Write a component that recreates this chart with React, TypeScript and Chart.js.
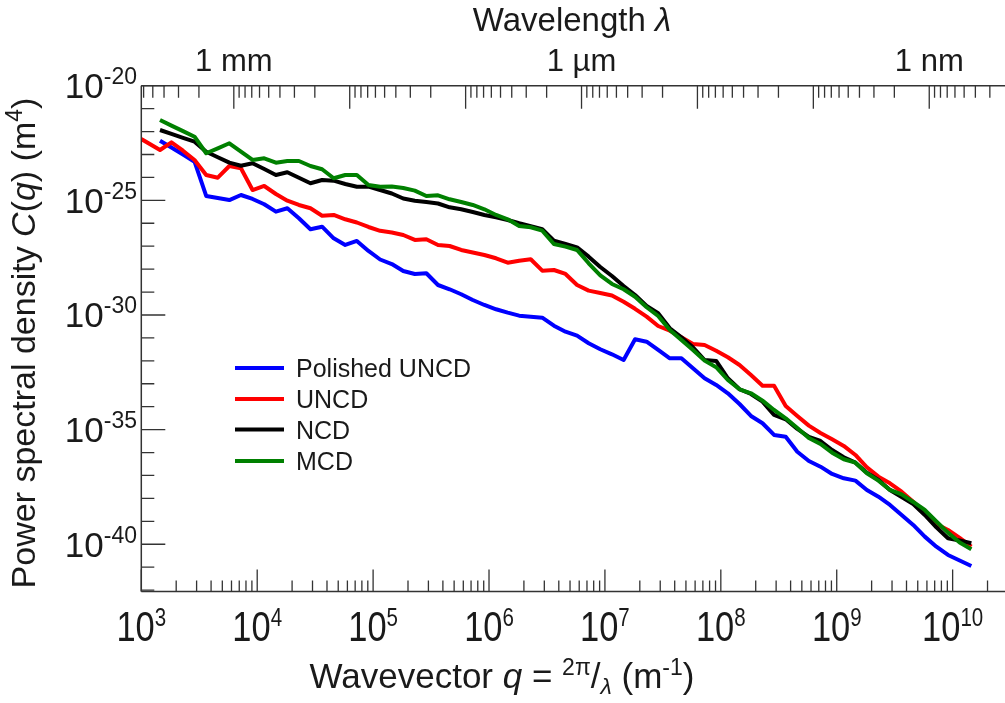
import React, { useEffect, useRef } from "react";
import { Chart, registerables } from "chart.js";

Chart.register(...registerables);

// Wavevector q (m^-1), shared by all series
const qValues = [
  1.45e3, 1.82e3, 2.29e3, 2.88e3, 3.63e3, 4.57e3, 5.75e3, 7.24e3, 9.12e3,
  1.15e4, 1.45e4, 1.82e4, 2.29e4, 2.88e4, 3.63e4, 4.57e4, 5.75e4, 7.24e4, 9.12e4,
  1.15e5, 1.45e5, 1.82e5, 2.29e5, 2.88e5, 3.63e5, 4.57e5, 5.75e5, 7.24e5, 9.12e5,
  1.15e6, 1.45e6, 1.82e6, 2.29e6, 2.88e6, 3.63e6, 4.57e6, 5.75e6, 7.24e6, 9.12e6,
  1.15e7, 1.45e7, 1.82e7, 2.29e7, 2.88e7, 3.63e7, 4.57e7, 5.75e7, 7.24e7, 9.12e7,
  1.15e8, 1.45e8, 1.82e8, 2.29e8, 2.88e8, 3.63e8, 4.57e8, 5.75e8, 7.24e8, 9.12e8,
  1.15e9, 1.45e9, 1.82e9, 2.29e9, 2.88e9, 3.63e9, 4.57e9, 5.75e9, 7.24e9, 9.12e9,
  1.15e10, 1.45e10,
];

// PSD C(q) (m^4)
const polishedUNCD = [
  3.99e-23, 2.02e-23, 1.0e-23, 4.85e-24, 1.55e-25, 1.26e-25, 1.03e-25, 1.71e-25, 1.15e-25,
  6.73e-26, 3.2e-26, 4.5e-26, 1.65e-26, 5.46e-27, 7.1e-27, 2.21e-27, 1.13e-27, 1.69e-27, 6.18e-28,
  2.63e-28, 1.67e-28, 8.3e-29, 6.14e-29, 6.59e-29, 2.03e-29, 1.32e-29, 8.0e-30, 4.51e-30, 2.73e-30,
  1.77e-30, 1.26e-30, 9.31e-31, 8.43e-31, 7.62e-31, 3.41e-31, 1.87e-31, 1.25e-31, 5.83e-32, 3.19e-32,
  1.93e-32, 1.09e-32, 8.71e-32, 6.85e-32, 2.98e-32, 1.29e-32, 1.29e-32, 4.73e-33, 1.73e-33, 8.85e-34,
  3.85e-34, 1.31e-34, 3.94e-35, 1.89e-35, 5.85e-36, 4.93e-36, 1.09e-36, 4.3e-37, 2.42e-37, 1.16e-37,
  7.55e-38, 5.94e-38, 2.33e-38, 1.19e-38, 5.18e-39, 1.9e-39, 6.95e-40, 2.15e-40, 7.85e-41, 3.41e-41,
  1.96e-41, 1.13e-41,
];

const uncdEdgeQ = 1.0e3;
const uncdEdgeC = 4.74e-23;
const uncd = [
  1.57e-23, 3.4e-23, 1.46e-23, 5.75e-24, 1.28e-24, 9.73e-25, 3.15e-24, 2.5e-24, 2.82e-25,
  4.23e-25, 1.89e-25, 9.66e-26, 6.27e-26, 4.5e-26, 2.14e-26, 2.3e-26, 1.49e-26, 1.08e-26, 6.89e-27,
  4.7e-27, 3.96e-27, 3.08e-27, 1.87e-27, 2.0e-27, 1.13e-27, 1.02e-27, 6.84e-28, 5.32e-28, 4.14e-28,
  2.97e-28, 1.91e-28, 2.33e-28, 2.69e-28, 8.55e-29, 9.16e-29, 6.14e-29, 2.03e-29, 1.15e-29, 9.12e-30,
  7.08e-30, 3.8e-30, 1.86e-30, 8.43e-31, 3.31e-31, 2.07e-31, 1.06e-31, 5.43e-32, 4.91e-32, 2.77e-32,
  1.43e-32, 6.59e-33, 2.42e-33, 8.26e-34, 8.26e-34, 1.07e-34, 3.94e-35, 1.49e-35, 7.14e-36, 3.79e-36,
  1.94e-36, 7.83e-37, 2.28e-37, 8.87e-38, 4.57e-38, 1.97e-38, 7.21e-39, 2.39e-39, 7.67e-40, 4.2e-40,
  1.88e-40, 7.85e-41,
];

const ncd = [
  1.17e-22, 7.91e-23, 5.35e-23, 3.61e-23, 1.32e-23, 7.62e-24, 4.39e-24, 3.24e-24, 4.13e-24,
  2.33e-24, 1.28e-24, 1.67e-24, 9.62e-25, 5.55e-25, 7.71e-25, 7.19e-25, 5.16e-25, 3.94e-25, 3.94e-25,
  2.82e-25, 1.99e-25, 1.2e-25, 9.66e-26, 8.47e-26, 7.29e-26, 4.98e-26, 4.07e-26, 3.1e-26, 2.3e-26,
  1.82e-26, 1.39e-26, 9.98e-27, 7.38e-27, 5.46e-27, 1.74e-27, 1.25e-27, 8.95e-28, 3.49e-28, 1.24e-28,
  5.02e-29, 1.84e-29, 7.45e-30, 2.47e-30, 1.19e-30, 2.63e-31, 1.06e-31, 3.9e-32, 1.09e-32, 9.86e-33,
  1.73e-33, 5.75e-34, 3.59e-34, 1.66e-34, 4.36e-35, 2.82e-35, 1.07e-35, 4.78e-36, 3.2e-36, 1.29e-36,
  6.22e-37, 3.62e-37, 1.33e-37, 6.37e-38, 2.33e-38, 1.16e-38, 5.71e-39, 1.9e-39, 5.51e-40, 1.83e-40,
  1.47e-40, 1.11e-40,
];

const mcd = [
  3.19e-22, 1.82e-22, 1.05e-22, 5.97e-23, 1.13e-23, 1.86e-23, 3.08e-23, 1.32e-23, 5.75e-24,
  6.82e-24, 4.39e-24, 5.2e-24, 5.2e-24, 3.15e-24, 2.26e-24, 9.16e-25, 1.28e-24, 1.28e-24, 4.67e-25,
  3.94e-25, 4.02e-25, 3.46e-25, 2.64e-25, 1.55e-25, 1.66e-25, 1.11e-25, 8.47e-26, 6.27e-26, 4.07e-26,
  2.3e-26, 1.49e-26, 7.6e-27, 6.68e-27, 4.74e-27, 1.25e-27, 9.53e-28, 6.84e-28, 1.8e-28, 5.38e-29,
  2.25e-29, 1.32e-29, 6.22e-30, 2.17e-30, 9.04e-31, 2.22e-31, 8.13e-32, 2.98e-32, 1.02e-32, 5.24e-33,
  1.46e-33, 5.75e-34, 3.85e-34, 1.83e-34, 7.19e-35, 3.13e-35, 1.18e-35, 4.33e-36, 2.37e-36, 9.89e-37,
  5.09e-37, 3.62e-37, 1.25e-37, 5.94e-38, 2.33e-38, 1.49e-38, 7.0e-39, 3.13e-39, 9.86e-40, 3.21e-40,
  1.2e-40, 6.05e-41,
];

const seriesLabels = ["Polished UNCD", "UNCD", "NCD", "MCD"];
const seriesColors = ["#0000ff", "#ff0000", "#000000", "#008000"];

// Axis ranges and tick labels
const xMin = 1e3;
const xMax = 2.83e10;
const yMin = 8.7e-43;
const yMax = 1e-20;
const xTickExponents = [3, 4, 5, 6, 7, 8, 9, 10];
const yTickExponents = [-20, -25, -30, -35, -40];
const topTickLabels = ["1 mm", "1 µm", "1 nm"];
const topTickWavelengths = [1e-3, 1e-6, 1e-9];

const FONT = '"Liberation Sans", Arial, Helvetica, sans-serif';
const TEXT = "#1a1a1a";
const AXIS = "#333333";

type Seg = { t: string; f: string; dy?: number };

function drawSegs(ctx: CanvasRenderingContext2D, segs: Seg[], x: number, y: number, align: "left" | "center" | "right") {
  let total = 0;
  for (const s of segs) {
    ctx.font = s.f;
    total += ctx.measureText(s.t).width;
  }
  let cx = align === "left" ? x : align === "center" ? x - total / 2 : x - total;
  ctx.textAlign = "left";
  ctx.textBaseline = "alphabetic";
  for (const s of segs) {
    ctx.font = s.f;
    ctx.fillText(s.t, cx, y + (s.dy || 0));
    cx += ctx.measureText(s.t).width;
  }
}

const axesPlugin = {
  id: "customAxes",
  afterDatasetsDraw(chart: any) {
    const ctx: CanvasRenderingContext2D = chart.ctx;
    const { left: L, right: R, top: T, bottom: B } = chart.chartArea;
    const xs = chart.scales.x;
    const ys = chart.scales.y;
    ctx.save();

    // axis lines
    ctx.strokeStyle = AXIS;
    ctx.lineWidth = 1.5;
    ctx.beginPath();
    ctx.moveTo(L, T);
    ctx.lineTo(R, T);
    ctx.moveTo(L, T);
    ctx.lineTo(L, B);
    ctx.moveTo(L, B);
    ctx.lineTo(R, B);
    ctx.stroke();

    ctx.lineWidth = 1.3;
    ctx.beginPath();
    // bottom ticks (inward)
    for (let e = 3; e <= 10; e++) {
      for (let m = 1; m <= 9; m++) {
        const v = m * Math.pow(10, e);
        if (v < xMin || v > xMax) continue;
        const px = xs.getPixelForValue(v);
        const len = m === 1 ? 22 : 11;
        ctx.moveTo(px, B);
        ctx.lineTo(px, B - len);
      }
    }
    // left ticks
    for (let e = -42; e <= -20; e++) {
      const v = Math.pow(10, e);
      if (v < yMin || v > yMax) continue;
      const py = ys.getPixelForValue(v);
      const len = e % 5 === 0 ? 24 : 13;
      ctx.moveTo(L, py);
      ctx.lineTo(L + len, py);
    }
    // top ticks (wavelength)
    for (let n = -10; n <= -2; n++) {
      for (let m = 1; m <= 9; m++) {
        const lam = m * Math.pow(10, n);
        const q = (2 * Math.PI) / lam;
        if (q < xMin || q > xMax) continue;
        const px = xs.getPixelForValue(q);
        const len = m === 1 ? 23 : 12;
        ctx.moveTo(px, T);
        ctx.lineTo(px, T + len);
      }
    }
    ctx.stroke();

    ctx.fillStyle = TEXT;
    // bottom tick labels (condensed)
    for (const e of xTickExponents) {
      const px = xs.getPixelForValue(Math.pow(10, e));
      ctx.save();
      ctx.translate(px, B + 49);
      ctx.scale(0.82, 1);
      drawSegs(ctx, [
        { t: "10", f: `42px ${FONT}` },
        { t: String(e), f: `25px ${FONT}`, dy: -15 },
      ], 0, 0, "center");
      ctx.restore();
    }
    // left tick labels
    for (const e of yTickExponents) {
      const py = ys.getPixelForValue(Math.pow(10, e));
      drawSegs(ctx, [
        { t: "10", f: `35px ${FONT}` },
        { t: String(e), f: `23px ${FONT}`, dy: -14 },
      ], 137, py + 12.5, "right");
    }
    // top tick labels
    topTickLabels.forEach((lab, i) => {
      const px = xs.getPixelForValue((2 * Math.PI) / topTickWavelengths[i]);
      drawSegs(ctx, [{ t: lab, f: `31px ${FONT}` }], px, T - 15, "center");
    });

    // titles
    drawSegs(ctx, [
      { t: "Wavelength ", f: `33px ${FONT}` },
      { t: "λ", f: `italic 33px ${FONT}` },
    ], 572, 31, "center");

    drawSegs(ctx, [
      { t: "Wavevector ", f: `35px ${FONT}` },
      { t: "q", f: `italic 35px ${FONT}` },
      { t: " = ", f: `35px ${FONT}` },
      { t: "2π", f: `23px ${FONT}`, dy: -13 },
      { t: "/", f: `35px ${FONT}` },
      { t: "λ", f: `italic 23px ${FONT}`, dy: 6 },
      { t: " (m", f: `35px ${FONT}` },
      { t: "-1", f: `23px ${FONT}`, dy: -13 },
      { t: ")", f: `35px ${FONT}` },
    ], 502, 688, "center");

    ctx.save();
    ctx.translate(35, 343);
    ctx.rotate(-Math.PI / 2);
    drawSegs(ctx, [
      { t: "Power spectral density ", f: `34px ${FONT}` },
      { t: "C", f: `italic 34px ${FONT}` },
      { t: "(", f: `34px ${FONT}` },
      { t: "q", f: `italic 34px ${FONT}` },
      { t: ") (m", f: `34px ${FONT}` },
      { t: "4", f: `23px ${FONT}`, dy: -13 },
      { t: ")", f: `34px ${FONT}` },
    ], 0, 0, "center");
    ctx.restore();

    // legend
    const rowY = [368, 399, 429.5, 461];
    seriesLabels.forEach((lab, i) => {
      ctx.strokeStyle = seriesColors[i];
      ctx.lineWidth = 4;
      ctx.beginPath();
      ctx.moveTo(235, rowY[i]);
      ctx.lineTo(284, rowY[i]);
      ctx.stroke();
      ctx.fillStyle = TEXT;
      drawSegs(ctx, [{ t: lab, f: `25px ${FONT}` }], 296, rowY[i] + 9, "left");
    });

    ctx.restore();
  },
};

export default function App() {
  const ref = useRef<HTMLCanvasElement | null>(null);

  useEffect(() => {
    if (!ref.current) return;
    const mk = (vals: number[]) => qValues.map((q, i) => ({ x: q, y: vals[i] }));
    const series = [
      mk(polishedUNCD),
      [{ x: uncdEdgeQ, y: uncdEdgeC }, ...mk(uncd)],
      mk(ncd),
      mk(mcd),
    ];
    const orders = [3, 2, 1, 0];
    const chart = new Chart(ref.current, {
      type: "line",
      data: {
        datasets: series.map((d, i) => ({
          label: seriesLabels[i],
          data: d,
          borderColor: seriesColors[i],
          backgroundColor: seriesColors[i],
          borderWidth: 4,
          pointRadius: 0,
          fill: false,
          tension: 0,
          borderJoinStyle: "round" as const,
          order: orders[i],
        })),
      },
      options: {
        responsive: false,
        animation: false,
        devicePixelRatio: 1,
        layout: { padding: { left: 141.3, top: 85.7, right: 0, bottom: 703 - 591.5 } },
        plugins: { legend: { display: false }, tooltip: { enabled: false } },
        scales: {
          x: { type: "logarithmic", min: xMin, max: xMax, display: false },
          y: { type: "logarithmic", min: yMin, max: yMax, display: false },
        },
      },
      plugins: [axesPlugin],
    });
    return () => chart.destroy();
  }, []);

  return (
    <div style={{ position: "fixed", left: 0, top: 0, width: 1005, height: 703, background: "#fff" }}>
      <canvas ref={ref} width={1005} height={703} style={{ display: "block" }} />
    </div>
  );
}
